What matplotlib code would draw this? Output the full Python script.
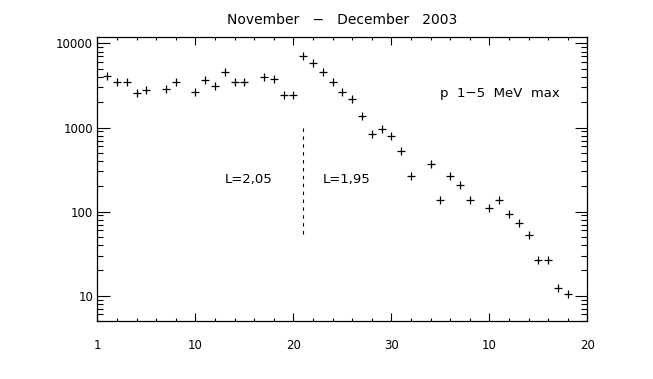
import matplotlib
matplotlib.use('Agg')
import matplotlib.pyplot as plt
from matplotlib.ticker import FixedLocator, MultipleLocator, LogLocator, NullFormatter
import numpy as np

# Tagesmaxima p 1-5 MeV, November und Dezember 2003
nov_days = [1, 2, 3, 4, 5, 7, 8, 10, 11, 12, 13, 14, 15, 17, 18, 19, 20,
            21, 22, 23, 24, 25, 26, 27, 28, 29, 30]
nov_vals = [4150, 3430, 3430, 2575, 2800, 2890, 3430, 2675, 3665, 3085, 4610,
            3430, 3430, 3960, 3740, 2455, 2455, 7160, 5910, 4610, 3430, 2675,
            2190, 1380, 830, 955, 787]
dec_days = [1, 2, 4, 5, 6, 7, 8, 10, 11, 12, 13, 14, 15, 16, 17, 18]
dec_vals = [527, 266, 366, 136, 266, 209, 136, 110, 136, 94, 73, 53,
            26.5, 26.5, 12.5, 10.5]

tick_pos = [0, 10, 20, 30, 40, 50]
tick_names = ['1', '10', '20', '30', '10', '20']

# L-Grenze am 21. November
l_day = 21
l_range = [1000, 50]

x = np.array(nov_days + [30 + d for d in dec_days])
y = np.array(nov_vals + dec_vals)

plt.rcParams['font.family'] = 'DejaVu Sans'
plt.rcParams['font.size'] = 8.5

fig = plt.figure(figsize=(6.53, 3.79), dpi=100)
ax = fig.add_axes([0.149, 0.153, 0.7505, 0.75])

ax.plot(x, y, linestyle='none', marker='+', color='black',
        markersize=5.5, markeredgewidth=0.9)
ax.plot([l_day, l_day], l_range, color='black', linewidth=0.8,
        dashes=(3.1, 4))

ax.text(13, 242, 'L=2,05', ha='left', va='center', fontsize=9.5)
ax.text(23, 242, 'L=1,95', ha='left', va='center', fontsize=9.5)
ax.text(35, 2570, 'p  1\u22125  MeV  max', ha='left', va='center', fontsize=9.5)

ax.set_yscale('log')
ax.set_xlim(0, 50)
ax.set_ylim(5, 12000)

ax.xaxis.set_major_locator(FixedLocator(tick_pos))
ax.set_xticklabels(tick_names)
ax.xaxis.set_minor_locator(MultipleLocator(2))
ax.yaxis.set_major_locator(LogLocator(base=10))
ax.yaxis.set_minor_locator(LogLocator(base=10, subs=np.arange(2, 10)))
ax.yaxis.set_minor_formatter(NullFormatter())
ax.yaxis.set_major_formatter(plt.FuncFormatter(lambda v, p: '%d' % round(v)))

ax.tick_params(axis='x', which='both', direction='in', top=True, width=0.8,
               pad=13)
ax.tick_params(axis='x', which='major', length=5.5)
ax.tick_params(axis='x', which='minor', length=2.5)
ax.tick_params(axis='y', which='both', direction='in', right=True, width=0.8,
               pad=3)
ax.tick_params(axis='y', which='major', length=9)
ax.tick_params(axis='y', which='minor', length=4.5)
for s in ax.spines.values():
    s.set_linewidth(0.9)

ax.set_title('November   \u2212   December   2003', fontsize=10, pad=9)

fig.savefig('out.png', dpi=100)
